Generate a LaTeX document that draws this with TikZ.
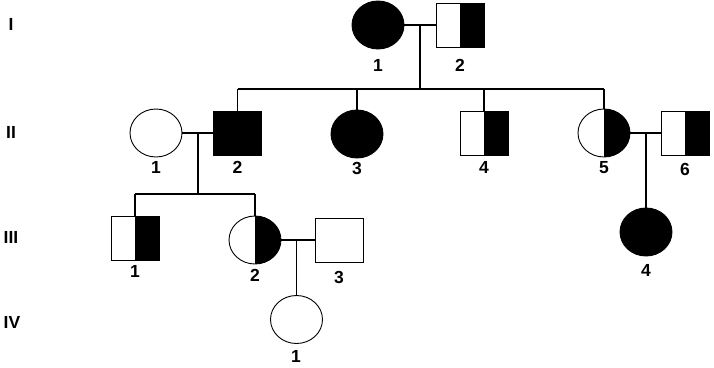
\documentclass[tikz,border=0pt]{standalone}
\usepackage{fontspec}
\setmainfont{Liberation Sans}
\usetikzlibrary{shapes.geometric,calc}
\tikzset{
  fem/.style={ellipse, draw, line width=0.9pt, inner sep=0pt, minimum width=52pt, minimum height=48pt},
  mal/.style={rectangle, draw, line width=0.9pt, inner sep=0pt, minimum width=48pt, minimum height=44pt},
  aff/.style={fill=black},
  half/.style={path picture={\fill[black] (path picture bounding box.north) rectangle (path picture bounding box.south east);}},
  num/.style={font=\fontsize{17.5}{17.5}\selectfont\bfseries},
  link/.style={line width=1.8pt}
}
\begin{document}
\begin{tikzpicture}[x=1pt,y=-1pt]
\useasboundingbox (0,0) rectangle (714,367);
\node[num] (gI) at (11,24) {I};
\node[num] (gII) at (11,132) {II};
\node[num] (gIII) at (11,237) {III};
\node[num] (gIV) at (12,322) {IV};
\node[fem, aff] (I1) at (378,25) {};
\node[mal, half] (I2) at (460,25) {};
\node[fem] (II1) at (156,133) {};
\node[mal, aff] (II2) at (237.5,133) {};
\node[fem, aff] (II3) at (357,134) {};
\node[mal, half] (II4) at (484,133) {};
\node[fem, half] (II5) at (604,133) {};
\node[mal, half] (II6) at (685,133) {};
\node[mal, half] (III1) at (135,238.5) {};
\node[fem, half] (III2) at (255,240) {};
\node[mal] (III3) at (339.5,240.5) {};
\node[fem, aff] (III4) at (646,232) {};
\node[fem] (IV1) at (296.5,319.5) {};
\node[num] (lI1) at (378,65) {1};
\node[num] (lI2) at (460,65) {2};
\node[num] (lII1) at (156,167) {1};
\node[num] (lII2) at (237.5,167) {2};
\node[num] (lII3) at (357,168) {3};
\node[num] (lII4) at (484,167) {4};
\node[num] (lII5) at (604,168) {5};
\node[num] (lII6) at (685,169) {6};
\node[num] (lIII1) at (135,271) {1};
\node[num] (lIII2) at (255,275) {2};
\node[num] (lIII3) at (339,277) {3};
\node[num] (lIII4) at (646,270) {4};
\node[num] (lIV1) at (296,356) {1};
\coordinate (sibI) at (0,89);
\coordinate (sibII) at (0,194);
\coordinate (mI) at ($(I1.east)!0.5!(I2.west)$);
\coordinate (mII) at ($(II1.east)!0.5!(II2.west)$);
\draw[link] (I1.east) -- (I2.west);
\draw[link] (mI) -- (mI |- sibI);
\draw[link] (II2.north |- sibI) -- (II5.north |- sibI);
\foreach \c in {II2,II3,II4,II5}
  \draw[link] (\c.north |- sibI) -- (\c.north);
\draw[link] (II1.east) -- (II2.west);
\draw[link] (mII) -- (mII |- sibII);
\draw[link] (III1.north |- sibII) -- (III2.north |- sibII);
\foreach \c in {III1,III2}
  \draw[link] (\c.north |- sibII) -- (\c.north);
\draw[link] (II5.east) -- (II6.west);
\draw[link] (III4.north |- II5.east) -- (III4.north);
\draw[link] (III2.east) -- (III2.east -| III3.west);
\draw[link] (IV1.north |- III2.east) -- (IV1.north);
\end{tikzpicture}
\end{document}
